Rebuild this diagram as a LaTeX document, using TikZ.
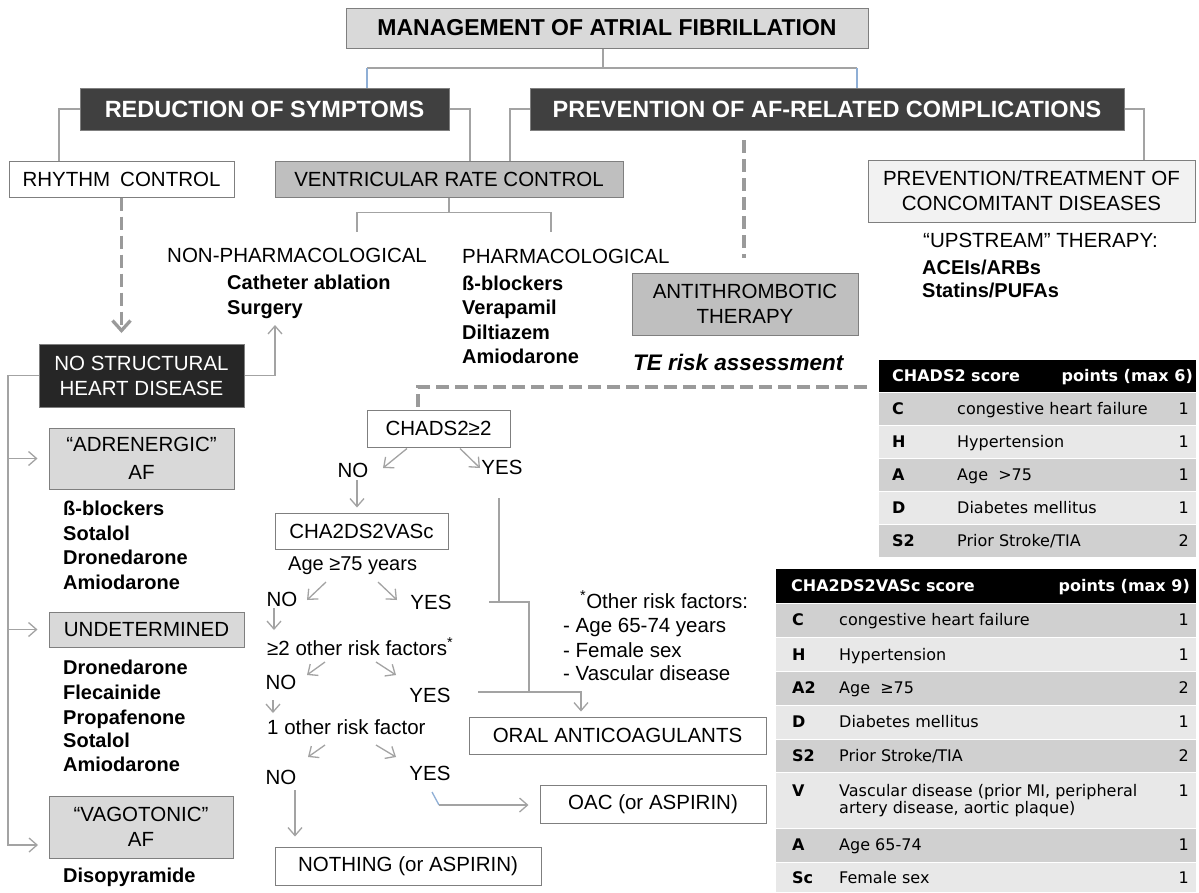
\documentclass[tikz,border=0pt]{standalone}
\usepackage{fontspec}
\setmainfont{Liberation Sans}
\newfontfamily\tabfont{DejaVu Sans}
\usetikzlibrary{arrows.meta,calc}
\definecolor{lc}{HTML}{A3A3A3}
\definecolor{bc}{HTML}{8FAFD6}
\definecolor{dkbox}{HTML}{404040}
\definecolor{blbox}{HTML}{262626}
\definecolor{mgbox}{HTML}{BFBFBF}
\definecolor{lgbox}{HTML}{D9D9D9}
\definecolor{vlbox}{HTML}{F2F2F2}
\definecolor{bdr}{HTML}{7F7F7F}
\definecolor{rowa}{HTML}{D0D0D0}
\definecolor{rowb}{HTML}{E8E8E8}
\definecolor{dashcol}{HTML}{9A9A9A}
\tikzset{
 box/.style={draw=bdr, line width=1pt, inner sep=0pt, align=center, font=\fontsize{20.5}{25}\selectfont},
 darkbox/.style={box, fill=dkbox, text=white, font=\bfseries\fontsize{23.5}{28}\selectfont},
 txt/.style={inner sep=0pt, anchor=west, text height=14.7pt, text depth=0pt, font=\fontsize{20.5}{25}\selectfont},
 btxt/.style={txt, font=\bfseries\fontsize{20}{25}\selectfont},
 lab/.style={inner sep=0pt, text height=14.7pt, text depth=0pt, font=\fontsize{20.5}{25}\selectfont},
 tabt/.style={inner sep=0pt, text height=11.6pt, text depth=0pt, font=\tabfont\fontsize{16}{18}\selectfont},
 tabl/.style={tabt, font=\tabfont\bfseries\fontsize{16}{18}\selectfont},
 tabh/.style={tabl, text=white},
 conn/.style={draw=lc, line width=1.3pt},
 bconn/.style={draw=bc, line width=1.3pt},
 arr/.style={conn, -{Straight Barb[length=8pt,width=14pt]}},
 dconn/.style={draw=dashcol, line width=3.3pt, dash pattern=on 13pt off 6pt},
 darr/.style={dconn, -{Straight Barb[length=10pt,width=18pt]}},
}
\begin{document}
\begin{tikzpicture}[x=1pt,y=-1pt]
\useasboundingbox (0,0) rectangle (1199,892);
\fill[white] (0,0) rectangle (1199,892);

% ---------- boxes
\node[box, fill=lgbox, minimum width=522pt, minimum height=40pt, font=\bfseries\fontsize{23}{28}\selectfont] (title) at (607,28) {MANAGEMENT OF ATRIAL FIBRILLATION};
\node[darkbox, minimum width=369pt, minimum height=42pt] (red) at (264.5,109) {REDUCTION OF SYMPTOMS};
\node[darkbox, minimum width=594pt, minimum height=42pt] (prev) at (827,109) {PREVENTION OF AF-RELATED COMPLICATIONS};
\node[box, fill=white, minimum width=225pt, minimum height=36pt] (rhythm) at (121.5,179) {RHYTHM\hspace{10pt}CONTROL};
\node[box, fill=mgbox, minimum width=348pt, minimum height=36pt] (vrc) at (449,179) {VENTRICULAR RATE CONTROL};
\node[box, fill=vlbox, minimum width=327pt, minimum height=62pt] (pt) at (1031.5,191) {PREVENTION/TREATMENT OF\\CONCOMITANT DISEASES};
\node[box, fill=mgbox, minimum width=226pt, minimum height=62pt] (anti) at (745,304) {ANTITHROMBOTIC\\THERAPY};
\node[box, fill=blbox, text=white, minimum width=205pt, minimum height=63pt] (nshd) at (141.5,375.5) {NO STRUCTURAL\\HEART DISEASE};
\node[box, fill=lgbox, minimum width=185pt, minimum height=61pt, font=\fontsize{20.5}{28}\selectfont] (adr) at (141.5,458.5) {“ADRENERGIC”\\AF};
\node[box, fill=lgbox, minimum width=195pt, minimum height=35pt] (und) at (146.5,629.5) {UNDETERMINED};
\node[box, fill=lgbox, minimum width=184pt, minimum height=62pt] (vag) at (141,827) {“VAGOTONIC”\\AF};
\node[box, fill=white, minimum width=143pt, minimum height=37pt] (chads) at (438.5,428.5) {CHADS2≥2};
\node[box, fill=white, minimum width=173pt, minimum height=36pt] (cha) at (361.5,531) {CHA2DS2VASc};
\node[box, fill=white, minimum width=297pt, minimum height=37pt] (oral) at (617.5,735.5) {ORAL ANTICOAGULANTS};
\node[box, fill=white, minimum width=226pt, minimum height=38pt] (oac) at (653,804) {OAC (or ASPIRIN)};
\node[box, fill=white, minimum width=266pt, minimum height=38pt] (nothing) at (408,866) {NOTHING (or ASPIRIN)};

% ---------- free texts
\node[txt] (nonph) at (167,255) {NON-PHARMACOLOGICAL};
\node[btxt] (cath) at (227,282) {Catheter ablation};
\node[btxt] (surg) at (227,307) {Surgery};
\node[txt] (pharm) at (462,256) {PHARMACOLOGICAL};
\node[btxt] (pd1) at (462,283) {ß-blockers};
\node[btxt] (pd2) at (462,307) {Verapamil};
\node[btxt] (pd3) at (462,332) {Diltiazem};
\node[btxt] (pd4) at (462,356) {Amiodarone};
\node[txt] (ups) at (923,240) {“UPSTREAM” THERAPY:};
\node[btxt] (ace) at (922,267) {ACEIs/ARBs};
\node[btxt] (stat) at (922,290) {Statins/PUFAs};
\node[txt, font=\bfseries\itshape\fontsize{22.5}{26}\selectfont] (te) at (633,363) {TE risk assessment};

\node[btxt] (ad1) at (63,508) {ß-blockers};
\node[btxt] (ad2) at (63,533) {Sotalol};
\node[btxt] (ad3) at (63,557) {Dronedarone};
\node[btxt] (ad4) at (63,582) {Amiodarone};
\node[btxt] (ud1) at (63,667) {Dronedarone};
\node[btxt] (ud2) at (63,692) {Flecainide};
\node[btxt] (ud3) at (63,717) {Propafenone};
\node[btxt] (ud4) at (63,740) {Sotalol};
\node[btxt] (ud5) at (63,764) {Amiodarone};
\node[btxt] (vd1) at (63,875) {Disopyramide};

\node[lab] (no1) at (353,470) {NO};
\node[lab] (yes1) at (502,467) {YES};
\node[txt, font=\fontsize{20}{24}\selectfont] (age) at (288,563) {Age ≥75 years};
\node[lab] (no2) at (282,599) {NO};
\node[lab] (yes2) at (431,602) {YES};
\node[txt] (r2) at (267,648) {≥2 other risk factors\textsuperscript{*}};
\node[lab] (no3) at (281,682) {NO};
\node[lab] (yes3) at (430,695) {YES};
\node[txt] (r1) at (267,727) {1 other risk factor};
\node[lab] (no4) at (281,777) {NO};
\node[lab] (yes4) at (430,773) {YES};

\node[txt] (oth) at (580,601) {\textsuperscript{*}Other risk factors:};
\node[txt] (oth1) at (563,625) {- Age 65-74 years};
\node[txt] (oth2) at (563,650) {- Female sex};
\node[txt] (oth3) at (563,673) {- Vascular disease};

% ---------- connectors top
\draw[conn] (title.south -| 603,0) |- (367,68);
\draw[conn] (title.south -| 603,0) |- (857,68);
\draw[bconn] (367,68) -- (red.north -| 367,0);
\draw[bconn] (857,68) -- (prev.north -| 857,0);
\draw[conn] (red.west) -| (rhythm.north -| 59,0);
\draw[conn] (red.east) -| (vrc.north -| 470,0);
\draw[conn] (prev.west) -| (vrc.north -| 510,0);
\draw[conn] (prev.east) -| (pt.north -| 1144,0);
\coordinate (npj) at (357,232);
\coordinate (phj) at (551,232);
\draw[conn] (vrc.south) -- ++(0,15) -| (npj);
\draw[conn] (vrc.south) -- ++(0,15) -| (phj);
\coordinate (d1) at (744,140);
\coordinate (d2) at (744,258);
\draw[dconn] (d1) -- (d2);
\draw[darr] (rhythm.south) -- (rhythm.south |- 0,333);
\draw[arr] (nshd.east) -| (275,325);
\draw[arr] (nshd.west) -| (8,845) -- (38,845);
\draw[arr] (8,458.5) -- ([xshift=-11pt]adr.west);
\draw[arr] (8,629.5) -- ([xshift=-11pt]und.west);
\coordinate (ted) at (867,387);
\draw[dconn] (ted) -| (chads.north -| 418,0);

% ---------- decision arrows
\draw[arr] ($(chads.south)+(-31.5,1)$) -- ($(no1.center)+(30,-2)$);
\draw[arr] ($(chads.south)+(21.5,1)$) -- ($(yes1.center)+(-22,1)$);
\draw[arr] ($(no1.center)+(4,10)$) -- ($(cha.north)+(-4.5,-5)$);
\draw[arr] ($(age.west)+(38,19)$) -- ($(no2.center)+(25,1)$);
\draw[arr] ($(age.west)+(90,19)$) -- ($(yes2.center)+(-34,-2)$);
\draw[arr] ($(no2.center)+(-8,9)$) -- ($(r2.west)+(7,-18)$);
\draw[arr] ($(r2.west)+(58,14)$) -- ($(no3.center)+(26,-7)$);
\draw[arr] ($(r2.west)+(109,14)$) -- ($(yes3.center)+(-34,-20)$);
\draw[arr] ($(no3.center)+(-8,18)$) -- ($(r1.west)+(6,-14)$);
\draw[arr] ($(r1.west)+(58,18)$) -- ($(no4.center)+(27,-20)$);
\draw[arr] ($(r1.west)+(109,18)$) -- ($(yes4.center)+(-34,-16)$);
\draw[arr] ($(no4.center)+(14,13)$) -- ($(nothing.north)+(-113,-10)$);
\coordinate (yb) at ($(yes4.center)+(9,32)$);
\draw[bconn] ($(yes4.center)+(2,19)$) -- (yb);
\draw[arr] (yb) -- ($(oac.west)+(-11,1)$);
\coordinate (j1) at (499,602);
\coordinate (j2) at (529,602);
\coordinate (j3) at (529,692);
\draw[conn] ($(yes1.center)+(-3,31)$) -- (j1);
\draw[conn] ($(yes2.center)+(58,0)$) -- (j2) -- (j3);
\draw[arr] ($(yes3.center)+(48,-3)$) -| ($(oral.north)+(-36.5,-5)$);

% ---------- CHADS2 table
\fill[black] (879,360) rectangle (1196,392);
\fill[rowa] (879,393) rectangle (1196,425);
\fill[rowb] (879,426) rectangle (1196,458);
\fill[rowa] (879,459) rectangle (1196,491);
\fill[rowb] (879,492) rectangle (1196,524);
\fill[rowa] (879,525) rectangle (1196,557);
\node[tabh, anchor=west] (c2h1) at (892,376) {CHADS2 score};
\node[tabh, anchor=east] (c2h2) at (1193,376) {points (max 6)};
\node[tabl, anchor=west] (c2l1) at (892,409) {C};
\node[tabt, anchor=west] (c2d1) at (957,409) {congestive heart failure};
\node[tabt, anchor=east] (c2n1) at (1189,409) {1};
\node[tabl, anchor=west] (c2l2) at (892,442) {H};
\node[tabt, anchor=west] (c2d2) at (957,442) {Hypertension};
\node[tabt, anchor=east] (c2n2) at (1189,442) {1};
\node[tabl, anchor=west] (c2l3) at (892,475) {A};
\node[tabt, anchor=west] (c2d3) at (957,475) {Age\ \ >75};
\node[tabt, anchor=east] (c2n3) at (1189,475) {1};
\node[tabl, anchor=west] (c2l4) at (892,508) {D};
\node[tabt, anchor=west] (c2d4) at (957,508) {Diabetes mellitus};
\node[tabt, anchor=east] (c2n4) at (1189,508) {1};
\node[tabl, anchor=west] (c2l5) at (892,541) {S2};
\node[tabt, anchor=west] (c2d5) at (957,541) {Prior Stroke/TIA};
\node[tabt, anchor=east] (c2n5) at (1189,541) {2};

% ---------- CHA2DS2VASc table
\fill[black] (776,569) rectangle (1196,603);
\fill[rowa] (776,604) rectangle (1196,637);
\fill[rowb] (776,638) rectangle (1196,671);
\fill[rowa] (776,672) rectangle (1196,705);
\fill[rowb] (776,706) rectangle (1196,739);
\fill[rowa] (776,740) rectangle (1196,772);
\fill[rowb] (776,773) rectangle (1196,828);
\fill[rowa] (776,829) rectangle (1196,862);
\fill[rowb] (776,863) rectangle (1196,892);
\node[tabh, anchor=west] (c3h1) at (791,586) {CHA2DS2VASc score};
\node[tabh, anchor=east] (c3h2) at (1190,586) {points (max 9)};
\node[tabl, anchor=west] (c3l1) at (792,620) {C};
\node[tabt, anchor=west] (c3d1) at (839,620) {congestive heart failure};
\node[tabt, anchor=east] (c3n1) at (1189,620) {1};
\node[tabl, anchor=west] (c3l2) at (792,655) {H};
\node[tabt, anchor=west] (c3d2) at (839,655) {Hypertension};
\node[tabt, anchor=east] (c3n2) at (1189,655) {1};
\node[tabl, anchor=west] (c3l3) at (792,688) {A2};
\node[tabt, anchor=west] (c3d3) at (839,688) {Age\ \ ≥75};
\node[tabt, anchor=east] (c3n3) at (1189,688) {2};
\node[tabl, anchor=west] (c3l4) at (792,722) {D};
\node[tabt, anchor=west] (c3d4) at (839,722) {Diabetes mellitus};
\node[tabt, anchor=east] (c3n4) at (1189,722) {1};
\node[tabl, anchor=west] (c3l5) at (792,756) {S2};
\node[tabt, anchor=west] (c3d5) at (839,756) {Prior Stroke/TIA};
\node[tabt, anchor=east] (c3n5) at (1189,756) {2};
\node[tabl, anchor=west] (c3l6) at (792,791) {V};
\node[tabt, anchor=west] (c3d6) at (839,791) {Vascular disease (prior MI, peripheral};
\node[tabt, anchor=west] (c3d6b) at (839,808) {artery disease, aortic plaque)};
\node[tabt, anchor=east] (c3n6) at (1189,791) {1};
\node[tabl, anchor=west] (c3l7) at (792,845) {A};
\node[tabt, anchor=west] (c3d7) at (839,845) {Age 65-74};
\node[tabt, anchor=east] (c3n7) at (1189,845) {1};
\node[tabl, anchor=west] (c3l8) at (792,878) {Sc};
\node[tabt, anchor=west] (c3d8) at (839,878) {Female sex};
\node[tabt, anchor=east] (c3n8) at (1189,878) {1};
\end{tikzpicture}
\end{document}
